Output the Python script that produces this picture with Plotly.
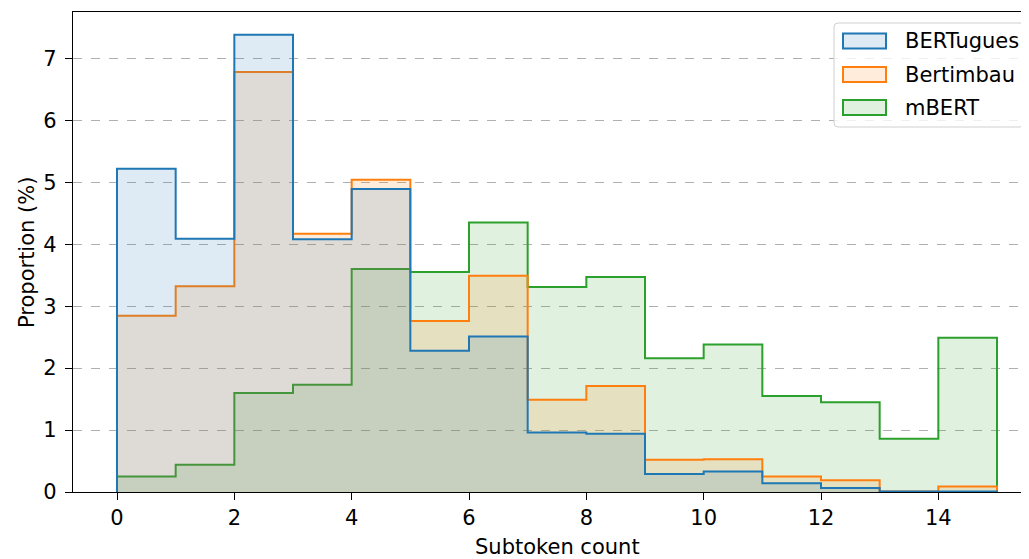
import plotly.graph_objects as go

bin_edges = list(range(0, 16))
series_names = ["BERTugues", "Bertimbau", "mBERT"]
bertugues = [5.22, 4.09, 7.38, 4.08, 4.89, 2.28, 2.51, 0.96, 0.94, 0.29, 0.33, 0.14, 0.065, 0.01, 0.01]
bertimbau = [2.845, 3.32, 6.78, 4.17, 5.04, 2.76, 3.49, 1.49, 1.71, 0.52, 0.53, 0.25, 0.19, 0.01, 0.09]
mbert = [0.25, 0.44, 1.60, 1.73, 3.60, 3.55, 4.35, 3.31, 3.47, 2.16, 2.38, 1.55, 1.45, 0.86, 2.49]
x_tick_vals = [0, 2, 4, 6, 8, 10, 12, 14]
y_tick_vals = [0, 1, 2, 3, 4, 5, 6, 7]

line_colors = ["#1f77b4", "#ff7f0e", "#2ca02c"]
fill_colors = ["rgba(31,119,180,0.15)", "rgba(255,127,14,0.15)", "rgba(44,160,44,0.15)"]

FONT = "DejaVu Sans"
FS = 21

# the page body adds an 8px margin; lay the figure out in screen pixels minus that offset
OFF = 8


def step_xy(edges, vals):
    xs, ys = [edges[0]], [0]
    for i, v in enumerate(vals):
        xs += [edges[i], edges[i + 1]]
        ys += [v, v]
    xs.append(edges[-1])
    ys.append(0)
    return xs, ys


series = list(zip(series_names, [bertugues, bertimbau, mbert], line_colors, fill_colors))

fig = go.Figure()
# drawn in reverse order so the first series sits on top (as in the reference)
for name, vals, lc, fc in reversed(series):
    xs, ys = step_xy(bin_edges, vals)
    fig.add_trace(go.Scatter(
        x=xs, y=ys, mode="lines", name=name, showlegend=False,
        line=dict(color=lc, width=2),
        fill="toself", fillcolor=fc,
        hoverinfo="skip",
    ))

W, H = 1029 - OFF, 559 - OFF
left, right_px, top, bottom = 73, 1029, 12, 492   # screen pixels
pw, ph = right_px - left, bottom - top
px_per_unit = (997 - 117) / 15.0
x_lo = -(117 - left) / px_per_unit
x_hi = 15 + (right_px - 997) / px_per_unit
y_max = 7.38 * 1.05


def px(xp):
    return (xp - left) / pw


def py(yp):
    return 1 - (yp - top) / ph


shapes = []
annotations = []

# legend box (rounded)
bx0, bx1, by0, by1, r = 834, 1024, 23, 127, 4
path = (f"M{px(bx0 + r)},{py(by0)} L{px(bx1 - r)},{py(by0)} Q{px(bx1)},{py(by0)} {px(bx1)},{py(by0 + r)} "
        f"L{px(bx1)},{py(by1 - r)} Q{px(bx1)},{py(by1)} {px(bx1 - r)},{py(by1)} "
        f"L{px(bx0 + r)},{py(by1)} Q{px(bx0)},{py(by1)} {px(bx0)},{py(by1 - r)} "
        f"L{px(bx0)},{py(by0 + r)} Q{px(bx0)},{py(by0)} {px(bx0 + r)},{py(by0)} Z")
shapes.append(dict(type="path", xref="paper", yref="paper", path=path,
                   fillcolor="rgba(255,255,255,0.8)", line=dict(color="#d0d0d0", width=1), layer="above"))

row_centers = [41, 74.5, 107.5]
for (name, vals, lc, fc), yc in zip(series, row_centers):
    shapes.append(dict(type="rect", xref="paper", yref="paper",
                       x0=px(843), x1=px(886), y0=py(yc - 7.5), y1=py(yc + 7.5),
                       fillcolor=fc, line=dict(color=lc, width=2), layer="above"))
    annotations.append(dict(xref="paper", yref="paper", x=px(903), y=py(yc),
                            xanchor="left", yanchor="middle", text=name, showarrow=False,
                            font=dict(family=FONT, size=FS, color="black")))

# axis titles
annotations.append(dict(xref="paper", yref="paper", x=px(557), y=py(547), xanchor="center",
                        yanchor="middle", text="Subtoken count", showarrow=False,
                        font=dict(family=FONT, size=FS, color="black")))
annotations.append(dict(xref="paper", yref="paper", x=px(27), y=py(253), xanchor="center",
                        yanchor="middle", text="Proportion (%)", showarrow=False, textangle=-90,
                        font=dict(family=FONT, size=FS, color="black")))

fig.update_layout(
    width=W, height=H,
    margin=dict(l=left - OFF, r=1029 - right_px, t=top - OFF, b=559 - bottom, autoexpand=False),
    plot_bgcolor="white", paper_bgcolor="white",
    font=dict(family=FONT, size=FS, color="black"),
    showlegend=False,
    shapes=shapes,
    annotations=annotations,
    xaxis=dict(
        range=[x_lo, x_hi], tickmode="array", tickvals=x_tick_vals,
        showgrid=False, zeroline=False, automargin=False,
        showline=True, linecolor="black", linewidth=1.3, mirror=True,
        ticks="outside", ticklen=7, tickwidth=1.3, tickcolor="black",
        tickfont=dict(family=FONT, size=FS),
    ),
    yaxis=dict(
        range=[0, y_max], tickmode="array", tickvals=y_tick_vals,
        showgrid=True, gridcolor="#b0b0b0", griddash="dash", gridwidth=1.2,
        zeroline=False, automargin=False,
        showline=True, linecolor="black", linewidth=1.3, mirror=False,
        ticks="outside", ticklen=7, tickwidth=1.3, tickcolor="black",
        tickfont=dict(family=FONT, size=FS), ticklabelstandoff=4,
    ),
)

fig.write_html("out.html")
